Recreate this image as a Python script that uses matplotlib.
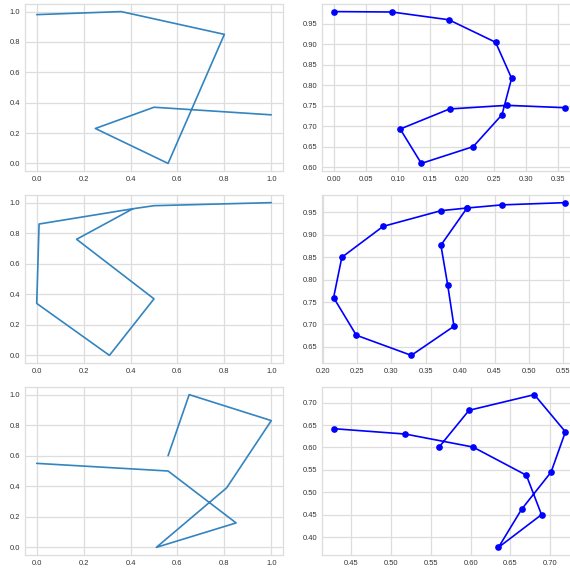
import matplotlib
matplotlib.use("Agg")
import matplotlib.pyplot as plt
import seaborn as sns

sns.set_theme(style="whitegrid")
plt.rcParams["font.family"] = ["Liberation Sans", "DejaVu Sans"]

# Normalised strokes (left column)
norm1_x = [0.0, 0.36, 0.80, 0.56, 0.25, 0.50, 1.0]
norm1_y = [0.98, 1.0, 0.85, 0.0, 0.23, 0.37, 0.32]
norm2_x = [1.0, 0.50, 0.41, 0.01, 0.0, 0.31, 0.50, 0.17, 0.41]
norm2_y = [1.0, 0.98, 0.96, 0.86, 0.34, 0.0, 0.37, 0.76, 0.96]
norm3_x = [0.0, 0.56, 0.85, 0.51, 0.81, 1.0, 0.65, 0.56]
norm3_y = [0.55, 0.50, 0.16, 0.0, 0.39, 0.83, 1.0, 0.60]

# Raw stroke points (right column)
raw1_x = [0.0, 0.091, 0.180, 0.253, 0.278, 0.263, 0.218, 0.137, 0.104, 0.181, 0.271, 0.362]
raw1_y = [0.980, 0.979, 0.960, 0.905, 0.817, 0.728, 0.650, 0.609, 0.693, 0.742, 0.751, 0.745]
raw2_x = [0.553, 0.461, 0.410, 0.372, 0.288, 0.228, 0.216, 0.249, 0.329, 0.391, 0.382, 0.372, 0.410]
raw2_y = [0.972, 0.967, 0.960, 0.954, 0.919, 0.850, 0.760, 0.676, 0.631, 0.696, 0.787, 0.877, 0.960]
raw3_x = [0.428, 0.518, 0.603, 0.670, 0.689, 0.635, 0.664, 0.701, 0.719, 0.680, 0.598, 0.560]
raw3_y = [0.642, 0.630, 0.601, 0.538, 0.450, 0.377, 0.462, 0.545, 0.635, 0.718, 0.683, 0.600]

norm = [(norm1_x, norm1_y), (norm2_x, norm2_y), (norm3_x, norm3_y)]
raw = [(raw1_x, raw1_y), (raw2_x, raw2_y), (raw3_x, raw3_y)]

W, H = 570, 572
fig = plt.figure(figsize=(W / 100, H / 100), dpi=100)

# pixel boxes: (left, top, right, bottom)
rows = [(4, 171), (195, 363), (387, 555)]
left_cols = (25, 283)
right_cols = (322, 577)


def add_axes(cols, row):
    l, r = cols
    t, b = row
    return fig.add_axes([l / W, 1 - b / H, (r - l) / W, (b - t) / H])


for i in range(3):
    for cols, data, kw in (
        (left_cols, norm[i], dict(color="#3384c0", lw=1.2)),
        (right_cols, raw[i], dict(color="blue", marker="o", ms=3.8, lw=1.2)),
    ):
        ax = add_axes(cols, rows[i])
        ax.plot(data[0], data[1], **kw)
        ax.tick_params(labelsize=5.4, length=0, pad=3.6, colors="#333333")
        ax.grid(color="#dddddd", lw=0.9)
        for s in ax.spines.values():
            s.set_color("#dddddd")
            s.set_linewidth(0.9)

fig.savefig("out.png", dpi=100)
